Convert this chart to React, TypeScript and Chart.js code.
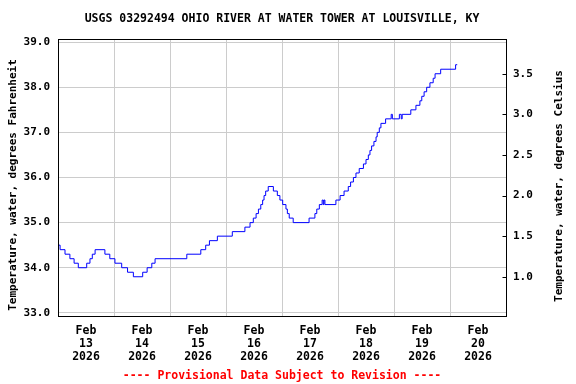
import React, { useEffect, useRef } from 'react';
import { Chart, registerables } from 'chart.js';

Chart.register(...registerables);

const TITLE = 'USGS 03292494 OHIO RIVER AT WATER TOWER AT LOUISVILLE, KY';
const FOOTER = '---- Provisional Data Subject to Revision ----';
const Y_LEFT_TITLE = 'Temperature, water, degrees Fahrenheit';
const Y_RIGHT_TITLE = 'Temperature, water, degrees Celsius';

const MONTH = 'Feb';
const YEAR = '2026';
const DAY_LABELS = ['13', '14', '15', '16', '17', '18', '19', '20'];

// hours since Feb 13 2026 00:00
const HOURS = [
  0, 0.9, 3.0, 5.1, 6.9, 8.7, 12.3, 13.7, 14.7, 15.9, 20.1, 22.2, 24.4, 27.3, 29.8,
  32.3, 36.3, 38.2, 40.2, 41.6, 55.2, 61.2, 63.3, 64.9, 68.3, 74.7, 80.1, 82.3, 83.7,
  84.9, 85.9, 86.9, 87.7, 88.3, 89.0, 90.1, 92.3, 94.0, 95.1, 96.3, 97.7, 98.3, 99.1,
  100.8, 107.6, 110.1, 110.9, 112.0, 113.2, 113.7, 114.0, 114.4, 119.1, 120.9, 122.6,
  124.4, 125.4, 126.6, 127.7, 129.1, 130.9, 132.0, 133.0, 133.7, 134.4, 135.4, 136.3,
  136.8, 137.7, 138.4, 140.4, 142.8, 143.3, 146.3, 147.1, 147.5, 151.2, 153.4, 155.1,
  155.9, 156.9, 158.0, 159.4, 160.8, 161.6, 164.0, 170.4, 171.1,
];
const TEMP_F = [
  34.5, 34.4, 34.3, 34.2, 34.1, 34.0, 34.1, 34.2, 34.3, 34.4, 34.3, 34.2, 34.1, 34.0, 33.9,
  33.8, 33.9, 34.0, 34.1, 34.2, 34.3, 34.4, 34.5, 34.6, 34.7, 34.8, 34.9, 35.0, 35.1,
  35.2, 35.3, 35.4, 35.5, 35.6, 35.7, 35.8, 35.7, 35.6, 35.5, 35.4, 35.3, 35.2, 35.1,
  35.0, 35.1, 35.2, 35.3, 35.4, 35.5, 35.4, 35.5, 35.4, 35.5, 35.6, 35.7,
  35.8, 35.9, 36.0, 36.1, 36.2, 36.3, 36.4, 36.5, 36.6, 36.7, 36.8, 36.9,
  37.0, 37.1, 37.2, 37.3, 37.4, 37.3, 37.4, 37.3, 37.4, 37.5, 37.6, 37.7,
  37.8, 37.9, 38.0, 38.1, 38.2, 38.3, 38.4, 38.5, 38.5,
];

const F_TICKS = [33, 34, 35, 36, 37, 38, 39];
const C_TICKS = [1.0, 1.5, 2.0, 2.5, 3.0, 3.5];
const F_MIN = 32.93;
const F_MAX = 39.07;
const X_MAX = 192;

const FONT_FAMILY = '"DejaVu Sans Mono", monospace';

const decorPlugin = {
  id: 'decor',
  afterDraw(chart: any) {
    const { ctx, chartArea: a } = chart;
    ctx.save();
    ctx.strokeStyle = '#000';
    ctx.lineWidth = 1;
    const l = Math.round(a.left) + 0.5;
    const t = Math.round(a.top) + 0.5;
    const r = Math.round(a.right) + 0.5;
    const b = Math.round(a.bottom) + 0.5;
    ctx.strokeRect(l, t, r - l, b - t);
    const y2 = chart.scales.y2;
    y2.ticks.forEach((tk: any) => {
      const py = Math.round(y2.getPixelForValue(tk.value)) + 0.5;
      ctx.beginPath();
      ctx.moveTo(r - 4, py);
      ctx.lineTo(r, py);
      ctx.stroke();
    });
    ctx.font = `bold 11.5px ${FONT_FAMILY}`;
    ctx.textAlign = 'center';
    ctx.textBaseline = 'middle';
    ctx.fillStyle = '#000';
    const cx = (a.left + a.right) / 2;
    ctx.fillText(TITLE, cx, 19);
    ctx.fillStyle = '#ff0000';
    ctx.fillText(FOOTER, cx, 376);
    ctx.fillStyle = '#000';
    ctx.font = `bold 11px ${FONT_FAMILY}`;
    ctx.save();
    ctx.translate(13, 185);
    ctx.rotate(-Math.PI / 2);
    ctx.fillText(Y_LEFT_TITLE, 0, 0);
    ctx.restore();
    ctx.save();
    ctx.translate(559, 186);
    ctx.rotate(-Math.PI / 2);
    ctx.fillText(Y_RIGHT_TITLE, 0, 0);
    ctx.restore();
    ctx.restore();
  },
};

export default function App() {
  const ref = useRef<HTMLCanvasElement | null>(null);

  useEffect(() => {
    if (!ref.current) return;
    const tickFont = { family: FONT_FAMILY, size: 11, weight: 'bold' as const };
    const chart = new Chart(ref.current, {
      type: 'line',
      data: {
        datasets: [
          {
            data: HOURS.map((h, i) => ({ x: h, y: TEMP_F[i] })),
            borderColor: '#0000ff',
            borderWidth: 1,
            pointRadius: 0,
            stepped: true,
            fill: false,
          },
        ],
      },
      plugins: [decorPlugin],
      options: {
        responsive: false,
        animation: false,
        devicePixelRatio: 1,
        layout: { padding: { top: 39, left: 0, right: 0, bottom: 0 } },
        plugins: { legend: { display: false }, tooltip: { enabled: false }, title: { display: false } },
        scales: {
          x: {
            type: 'linear',
            min: 0,
            max: X_MAX,
            afterBuildTicks: (s: any) => {
              const arr = [];
              for (let v = 0; v <= X_MAX; v += 12) arr.push({ value: v });
              s.ticks = arr;
            },
            afterFit: (s: any) => {
              s.height = 68;
            },
            ticks: {
              autoSkip: false,
              maxRotation: 0,
              minRotation: 0,
              padding: 9,
              color: '#000',
              font: { ...tickFont, size: 11.5, lineHeight: 1.13 },
              callback: (v: any) => {
                const n = Number(v);
                if (n % 24 === 12) return [MONTH, DAY_LABELS[(n - 12) / 24], YEAR];
                return '';
              },
            },
            grid: {
              drawTicks: false,
              color: (c: any) => (c.tick && c.tick.value % 24 === 0 ? '#cccccc' : 'rgba(0,0,0,0)'),
            },
            border: { display: false },
          },
          y: {
            type: 'linear',
            position: 'left',
            min: F_MIN,
            max: F_MAX,
            afterBuildTicks: (s: any) => {
              s.ticks = F_TICKS.map((v) => ({ value: v }));
            },
            afterFit: (s: any) => {
              s.width = 58;
            },
            ticks: {
              padding: 8,
              color: '#000',
              font: tickFont,
              callback: (v: any) => Number(v).toFixed(1),
            },
            grid: { drawTicks: false, color: '#cccccc' },
            border: { display: false },
          },
          y2: {
            type: 'linear',
            position: 'right',
            min: (F_MIN - 32) / 1.8,
            max: (F_MAX - 32) / 1.8,
            afterBuildTicks: (s: any) => {
              s.ticks = C_TICKS.map((v) => ({ value: v }));
            },
            afterFit: (s: any) => {
              s.width = 70;
            },
            ticks: {
              padding: 7,
              color: '#000',
              font: tickFont,
              callback: (v: any) => Number(v).toFixed(1),
            },
            grid: { drawOnChartArea: false, drawTicks: false },
            border: { display: false },
          },
        },
      },
    });
    return () => chart.destroy();
  }, []);

  return (
    <div style={{ position: 'absolute', left: 0, top: 0, width: 576, height: 384, background: '#fff' }}>
      <canvas ref={ref} width={576} height={384} />
    </div>
  );
}
